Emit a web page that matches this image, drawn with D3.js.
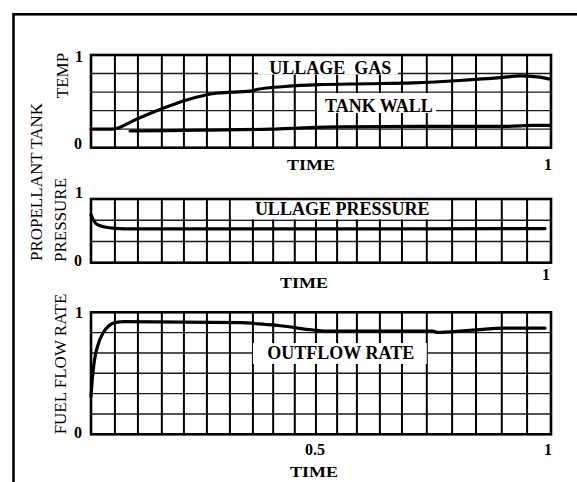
<!DOCTYPE html>
<html><head><meta charset="utf-8">
<script src="https://cdn.jsdelivr.net/npm/d3@7"></script>
<style>
html,body{margin:0;padding:0;background:#fff;}
svg{display:block;}
text{font-family:"Liberation Serif","Times New Roman",serif;fill:#000;}
</style></head>
<body>
<svg id="c" width="577" height="482"></svg>
<script>
// ---- data (x = fraction of time axis, y = fraction of full scale) ----
const gridX = [0, .052, .102, .154, .202, .252, .302, .352, .396, .443, .489, .535, .578, .628, .676, .730, .785, .837, .893, .948, 1];

const ullageGasT = [0, .045, .10, .154, .204, .276, .346, .363, .422, .493, .60, .70, .802, .889, .933, .970, .998];
const ullageGasV = [.20, .20, .31, .42, .51, .59, .61, .63, .66, .68, .69, .70, .725, .755, .775, .765, .74];

const tankWallT = [.085, .237, .393, .465, .541, .715, .904, .961, .998];
const tankWallV = [.18, .19, .20, .215, .225, .23, .23, .24, .24];

const pressureT = [0, .004, .010, .020, .030, .052, .096, .454, .987];
const pressureV = [.75, .69, .62, .58, .56, .54, .53, .53, .535];

const outflowT = [0, .004, .009, .015, .026, .039, .052, .074, .324, .38, .411, .483, .52, .743, .752, .817, .904, .987];
const outflowV = [.31, .50, .64, .73, .83, .89, .915, .923, .915, .90, .89, .855, .845, .845, .835, .85, .87, .87];

const panelTitles = ["TEMP", "PRESSURE", "FUEL FLOW RATE"];
const sharedTitle = "PROPELLANT TANK";
const curveLabels = ["ULLAGE  GAS", "TANK WALL", "ULLAGE PRESSURE", "OUTFLOW RATE"];
const yTickLabels = ["0", "1"];
const xAxisTitle = "TIME";
const midTickLabel = "0.5";
const endTickLabel = "1";

// ---- layout ----
const svg = d3.select("#c");
const X0 = 91, X1 = 551;
const x = d3.scaleLinear().domain([0, 1]).range([X0, X1]);

const panels = [
  {top: 55, bottom: 147.7, rows: 5, series: [[ullageGasT, ullageGasV], [tankWallT, tankWallV]],
   boxes: [{x0: .363, x1: .667, y0: .79, y1: 1, label: curveLabels[0], tx: .52, ty: .80},
           {x0: .491, x1: .750, y0: .374, y1: .59, label: curveLabels[1], tx: .626, ty: .388}],
   t1dy: 7, t0dy: 1, title: panelTitles[0], titleX: 68, timeY: 170, timeX: 311, oneY: 170, oneX: 548},
  {top: 199, bottom: 262.7, rows: 3, series: [[pressureT, pressureV]],
   boxes: [{x0: .304, x1: .778, y0: .68, y1: 1, label: curveLabels[2], tx: .546, ty: .749}],
   t1dy: -1, t0dy: 3, title: panelTitles[1], titleX: 65.5, timeY: 288, timeX: 304, oneY: 280, oneX: 546},
  {top: 312.3, bottom: 434.3, rows: 6, series: [[outflowT, outflowV]],
   boxes: [{x0: .352, x1: .730, y0: .577, y1: .748, label: curveLabels[3], tx: .543, ty: .616}],
   t1dy: 6, t0dy: 4, title: panelTitles[2], titleX: 66, timeY: 477, timeX: 314, oneY: 455, oneX: 548}
];

// outer frame (clipped by the window on right/bottom)
svg.append("rect").attr("x", 13.5).attr("y", 14.3).attr("width", 700).attr("height", 700)
  .attr("fill", "none").attr("stroke", "#000").attr("stroke-width", 2.6);

panels.forEach((p, i) => {
  const y = d3.scaleLinear().domain([0, 1]).range([p.bottom, p.top]);
  const g = svg.append("g");
  // horizontal grid
  const hv = d3.range(1, p.rows).map(k => k / p.rows);
  g.selectAll(".h").data(hv).join("line")
    .attr("x1", X0).attr("x2", X1).attr("y1", d => y(d)).attr("y2", d => y(d))
    .attr("stroke", "#1a1a1a").attr("stroke-width", 1.4);
  // vertical grid
  g.selectAll(".v").data(gridX.slice(1, -1)).join("line")
    .attr("x1", d => x(d)).attr("x2", d => x(d)).attr("y1", p.top).attr("y2", p.bottom)
    .attr("stroke", "#000").attr("stroke-width", 2);
  // label boxes
  p.boxes.forEach(b => {
    g.append("rect").attr("x", x(b.x0)).attr("y", y(b.y1)).attr("width", x(b.x1) - x(b.x0))
      .attr("height", y(b.y0) - y(b.y1)).attr("fill", "#fff");
    g.append("text").attr("x", x(b.tx)).attr("y", y(b.ty)).attr("text-anchor", "middle")
      .attr("font-size", 18).attr("font-weight", "bold").style("white-space", "pre").text(b.label);
  });
  // border
  g.append("rect").attr("x", X0).attr("y", p.top).attr("width", X1 - X0).attr("height", p.bottom - p.top)
    .attr("fill", "none").attr("stroke", "#000").attr("stroke-width", 2.6);
  // curves
  const line = d3.line().x(d => x(d[0])).y(d => y(d[1])).curve(d3.curveMonotoneX);
  p.series.forEach(([ts, vs]) => {
    g.append("path").datum(ts.map((t, k) => [t, vs[k]])).attr("d", line)
      .attr("fill", "none").attr("stroke", "#000").attr("stroke-width", 3.2)
      .attr("stroke-linecap", "round").attr("stroke-linejoin", "round");
  });
  // y tick labels
  g.append("text").attr("x", 79).attr("y", y(1) + p.t1dy).attr("text-anchor", "middle")
    .attr("font-size", 16).attr("font-weight", "bold").text(yTickLabels[1]);
  g.append("text").attr("x", 78).attr("y", y(0) + p.t0dy).attr("text-anchor", "middle")
    .attr("font-size", 16).attr("font-weight", "bold").text(yTickLabels[0]);
  // y title
  const cy = (p.top + p.bottom) / 2;
  const ty = i === 0 ? 75.5 : i === 1 ? 220 : 364;
  g.append("text").attr("transform", `translate(${p.titleX},${ty}) rotate(-90)`)
    .attr("text-anchor", "middle").attr("font-size", 17).text(p.title);
  // x labels
  g.append("text").attr("x", p.timeX).attr("y", p.timeY).attr("text-anchor", "middle")
    .attr("font-size", 15).attr("font-weight", "bold")
    .attr("textLength", 48).attr("lengthAdjust", "spacingAndGlyphs").text(xAxisTitle);
  g.append("text").attr("x", p.oneX).attr("y", p.oneY).attr("text-anchor", "middle")
    .attr("font-size", 16).attr("font-weight", "bold").text(endTickLabel);
  if (i === 2) {
    g.append("text").attr("x", x(gridX[10]) - 1).attr("y", 455).attr("text-anchor", "middle")
      .attr("font-size", 16).attr("font-weight", "bold").text(midTickLabel);
  }
});

svg.append("text").attr("transform", "translate(42,182) rotate(-90)")
  .attr("text-anchor", "middle").attr("font-size", 17).text(sharedTitle);
</script>
</body></html>
